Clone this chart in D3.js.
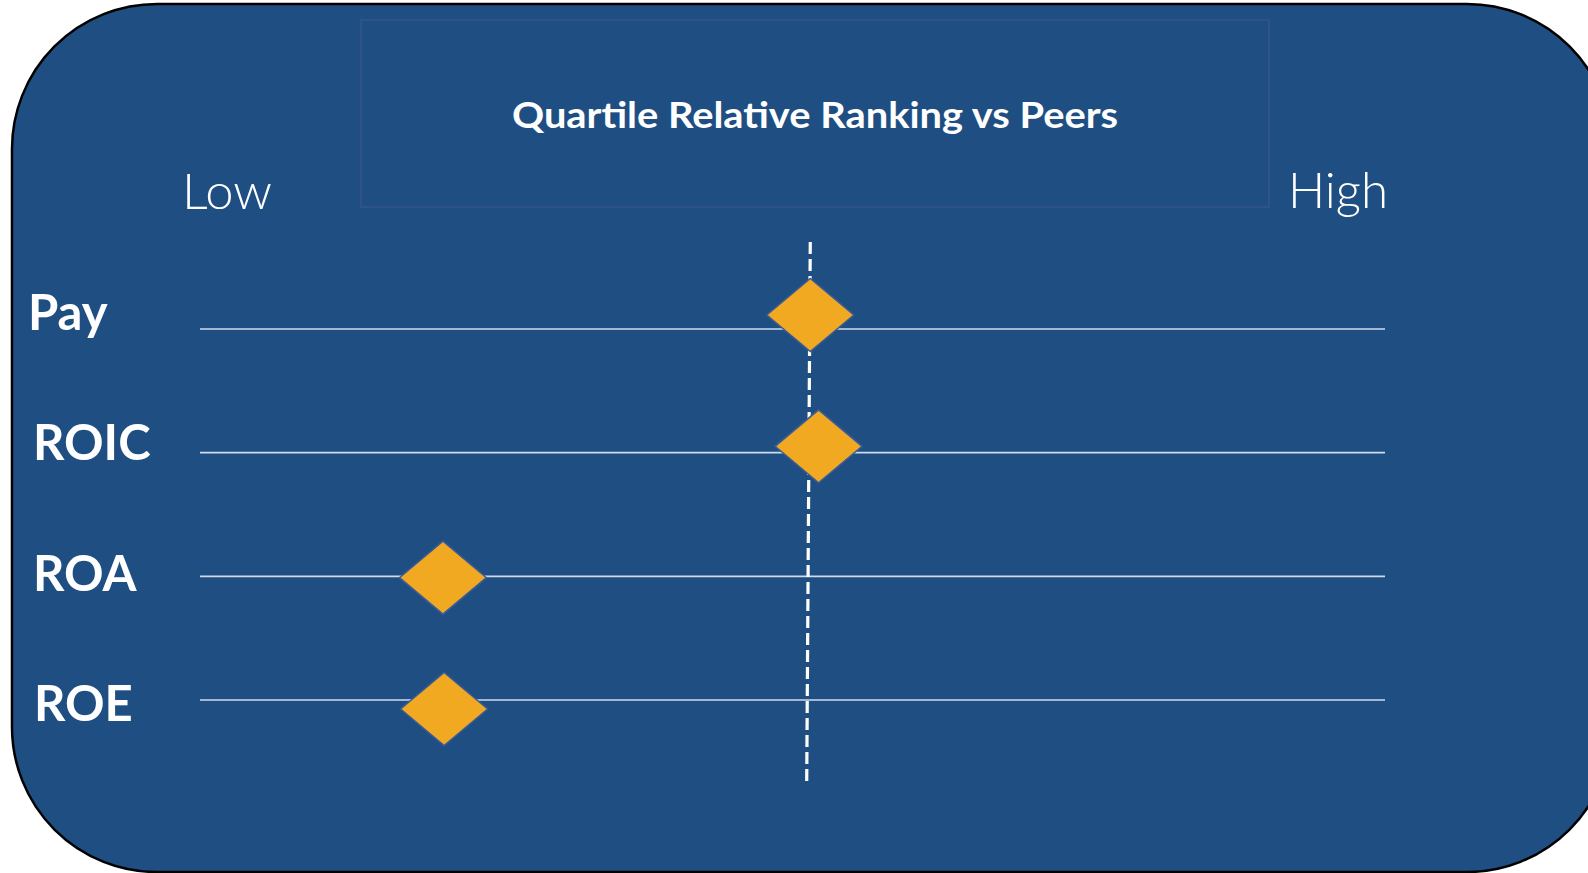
<!DOCTYPE html>
<html><head><meta charset="utf-8">
<script src="https://cdn.jsdelivr.net/npm/d3@7"></script>
<style>html,body{margin:0;padding:0;background:#fff;overflow:hidden}</style>
</head><body><svg id="c" width="1588" height="873"></svg>
<script>
// ---- data ----
const categories = ["Pay", "ROIC", "ROA", "ROE"];
const rankValues = [51.5, 52.2, 20.5, 20.6];      // position on Low..High scale (0..100)
const medianLine = [51.5, 51.2];                   // dashed peer median (top, bottom)
const endLabels = ["Low", "High"];
const title = "Quartile Relative Ranking vs Peers";

const svg = d3.select("#c");

// background rounded panel
svg.append("rect").attr("x", 12).attr("y", 4).attr("width", 1600).attr("height", 868)
  .attr("rx", 145).attr("ry", 145)
  .attr("fill", "#1f4f82").attr("stroke", "#000").attr("stroke-width", 2.5);

// title box
svg.append("rect").attr("x", 361).attr("y", 20).attr("width", 908).attr("height", 187)
  .attr("fill", "none").attr("stroke", "#2f518c").attr("stroke-width", 2);
svg.append("text").attr("x", 815).attr("y", 128).attr("text-anchor", "middle")
  .attr("fill", "#fff").attr("font-family", "Lato, 'Noto Sans', sans-serif")
  .attr("font-weight", 700).attr("font-size", 36)
  .attr("textLength", 606).attr("lengthAdjust", "spacingAndGlyphs")
  .text(title);

// scales
const x = d3.scaleLinear().domain([0, 100]).range([200, 1385]);
const yLine = d3.scalePoint().domain(categories).range([329, 700]);
const yMark = d3.scalePoint().domain(categories).range([315, 709]);
const yLabel = d3.scalePoint().domain(categories).range([330, 721]);

// Low / High
svg.append("text").attr("x", 182).attr("y", 209).attr("fill", "#fff")
  .attr("font-family", "Lato, 'Noto Sans', sans-serif").attr("font-weight", 300)
  .attr("font-size", 50).attr("textLength", 90).attr("lengthAdjust", "spacingAndGlyphs")
  .text(endLabels[0]);
svg.append("text").attr("x", 1288).attr("y", 208).attr("fill", "#fff")
  .attr("font-family", "Lato, 'Noto Sans', sans-serif").attr("font-weight", 300)
  .attr("font-size", 50).attr("textLength", 100).attr("lengthAdjust", "spacingAndGlyphs")
  .text(endLabels[1]);

// row lines
svg.append("g").selectAll("line").data(categories).join("line")
  .attr("x1", x(0)).attr("x2", x(100))
  .attr("y1", d => yLine(d)).attr("y2", d => yLine(d))
  .attr("stroke", "#d0dbe9").attr("stroke-width", 1.7);

// row labels
const labelX = {Pay: 28, ROIC: 33, ROA: 33, ROE: 34};
svg.append("g").selectAll("text").data(categories).join("text")
  .attr("x", d => labelX[d]).attr("y", d => yLabel(d))
  .attr("fill", "#fff").attr("font-family", "Lato, 'Noto Sans', sans-serif")
  .attr("font-weight", 700).attr("font-size", 49)
  .text(d => d);

// dashed median line
svg.append("line")
  .attr("x1", x(medianLine[0])).attr("y1", 242)
  .attr("x2", x(medianLine[1])).attr("y2", 781)
  .attr("stroke", "#fff").attr("stroke-width", 3.2).attr("stroke-dasharray", "12,5");

// diamonds
const hw = 43.5, hh = 36.5;
svg.append("g").selectAll("path").data(categories).join("path")
  .attr("d", (d, i) => {
    const cx = x(rankValues[i]), cy = yMark(d);
    return `M${cx},${cy - hh}L${cx + hw},${cy}L${cx},${cy + hh}L${cx - hw},${cy}Z`;
  })
  .attr("fill", "#f0a920").attr("stroke", "#3b5b98").attr("stroke-width", 1.5);
</script></body></html>
